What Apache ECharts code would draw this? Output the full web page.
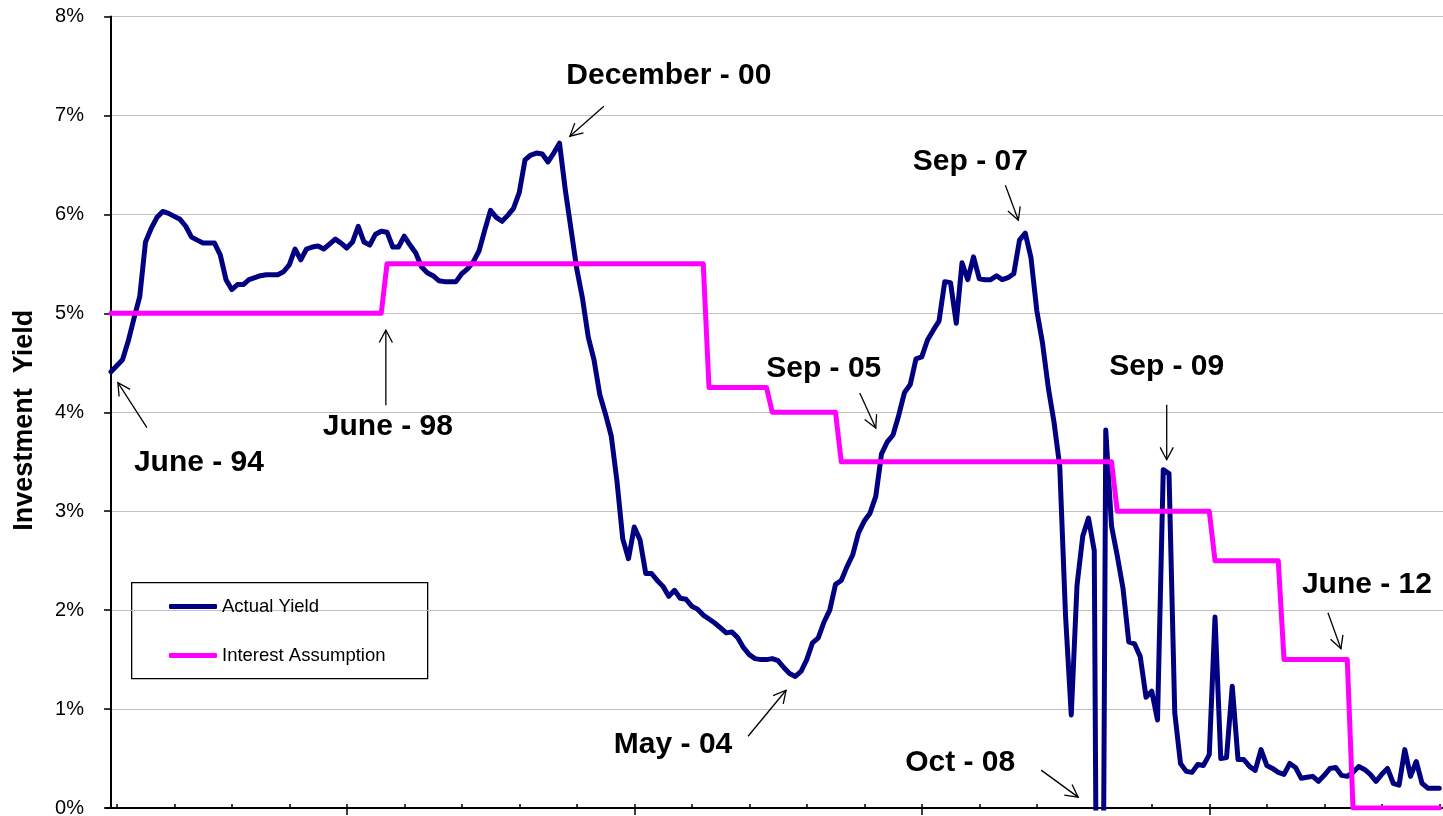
<!DOCTYPE html>
<html>
<head>
<meta charset="utf-8">
<script src="https://cdn.jsdelivr.net/npm/echarts@6/dist/echarts.min.js"></script>
<style>
  html, body { margin: 0; padding: 0; background: #fff; }
  #chart { width: 1443px; height: 816px; }
</style>
</head>
<body>
<div id="chart"></div>
<script>
// Monthly actual investment yield (%), one value per month starting June 1994
const firstMonth = '1994-06';
const actualYield = [
  4.41, 4.47, 4.53, 4.72, 4.95, 5.17, 5.72, 5.86, 5.97, 6.03,
  6.01, 5.98, 5.95, 5.88, 5.77, 5.74, 5.71, 5.71, 5.71, 5.59,
  5.34, 5.24, 5.29, 5.29, 5.34, 5.36, 5.38, 5.39, 5.39, 5.39,
  5.42, 5.49, 5.65, 5.54, 5.65, 5.67, 5.68, 5.65, 5.70, 5.75,
  5.71, 5.66, 5.72, 5.88, 5.72, 5.69, 5.80, 5.83, 5.82, 5.67,
  5.67, 5.78, 5.69, 5.61, 5.47, 5.41, 5.38, 5.33, 5.32, 5.32,
  5.32, 5.40, 5.45, 5.52, 5.63, 5.84, 6.04, 5.97, 5.93, 5.99,
  6.06, 6.22, 6.55, 6.60, 6.62, 6.61, 6.53, 6.62, 6.72, 6.25,
  5.85, 5.45, 5.15, 4.76, 4.53, 4.18, 3.98, 3.76, 3.30, 2.72,
  2.52, 2.84, 2.71, 2.37, 2.37, 2.30, 2.24, 2.14, 2.20, 2.12,
  2.11, 2.04, 2.01, 1.95, 1.91, 1.87, 1.82, 1.77, 1.78, 1.72,
  1.62, 1.55, 1.51, 1.50, 1.50, 1.51, 1.49, 1.42, 1.36, 1.33,
  1.38, 1.50, 1.67, 1.72, 1.88, 2.00, 2.26, 2.30, 2.44, 2.56,
  2.78, 2.90, 2.98, 3.15, 3.58, 3.70, 3.77, 3.97, 4.20, 4.28,
  4.54, 4.56, 4.73, 4.83, 4.92, 5.32, 5.31, 4.90, 5.51, 5.34,
  5.57, 5.35, 5.34, 5.34, 5.38, 5.34, 5.36, 5.40, 5.74, 5.81,
  5.56, 5.03, 4.70, 4.25, 3.90, 3.45, 1.95, 0.94, 2.25, 2.75,
  2.93, 2.60, -7.00, 3.82, 2.85, 2.55, 2.22, 1.68, 1.66, 1.53,
  1.12, 1.18, 0.89, 3.42, 3.38, 0.96, 0.45, 0.37, 0.36, 0.44,
  0.43, 0.54, 1.93, 0.50, 0.51, 1.23, 0.49, 0.49, 0.42, 0.38,
  0.59, 0.43, 0.40, 0.36, 0.34, 0.45, 0.41, 0.30, 0.31, 0.32,
  0.27, 0.33, 0.40, 0.41, 0.33, 0.32, 0.36, 0.42, 0.39, 0.34,
  0.27, 0.34, 0.40, 0.25, 0.23, 0.59, 0.32, 0.47, 0.25, 0.20,
  0.20, 0.20
];

// Assumed interest rate (%) and the month each rate took effect
const assumptionFrom = ['1994-06', '1998-06', '2003-02', '2004-01', '2005-01', '2009-01', '2010-06', '2011-06', '2012-06'];
const assumptionRate = [5.0, 5.5, 4.25, 4.0, 3.5, 3.0, 2.5, 1.5, 0.0];

// Y axis ticks (%)
const yTickValues = [0, 1, 2, 3, 4, 5, 6, 7, 8];

// Date-axis tick marks, in months since June 1994 (long marks every 50 months)
const xMinorTicks = [1, 11, 21, 31, 41, 51, 61, 71, 81, 91, 101, 111, 121, 131, 141, 151, 161, 171, 181, 191, 201, 211, 221, 231];
const xMajorTicks = [41, 91, 141, 191];

// Callouts: text and the point (months since June 1994, %) the arrow points at
const calloutLabels = ['June - 94', 'June - 98', 'December - 00', 'May - 04', 'Sep - 05', 'Sep - 07', 'Oct - 08', 'Sep - 09', 'June - 12'];
const calloutTargets = [
  [1.2, 4.30], [47.8, 4.83], [79.8, 6.79], [117.4, 1.19], [133.0, 3.84],
  [157.8, 5.94], [168.2, 0.11], [183.6, 3.52], [213.9, 1.61]
];

// ---- helpers ----
function monthIndex(ym) {
  const [y, m] = ym.split('-').map(Number);
  const [y0, m0] = firstMonth.split('-').map(Number);
  return (y - y0) * 12 + (m - m0);
}

const yieldData = actualYield.map((v, i) => [i, v]);
const assumptionStarts = assumptionFrom.map(monthIndex);
const assumptionData = actualYield.map((_, i) => {
  let rate = assumptionRate[0];
  assumptionStarts.forEach((s, k) => { if (i >= s) rate = assumptionRate[k]; });
  return [i, rate];
});

// Pixel offsets of each callout's arrow tail and text centre from its arrow head
const calloutLayout = [
  { tail: [29, 45],   text: [81, 80] },
  { tail: [0, 75],    text: [2, 97] },
  { tail: [34, -30],  text: [99, -60] },
  { tail: [-38, 46],  text: [-113, 54] },
  { tail: [-16, -35], text: [-52, -59] },
  { tail: [-13, -35], text: [-48, -59] },
  { tail: [-37, -27], text: [-118, -34] },
  { tail: [0, -55],   text: [0, -93] },
  { tail: [-13, -36], text: [26, -64] }
];

const FONT = '"Liberation Sans", Arial, Helvetica, sans-serif';
const X_MIN = -0.87, X_MAX = 231.65;

const chart = echarts.init(document.getElementById('chart'), null, { renderer: 'canvas' });

chart.setOption({
  animation: false,
  backgroundColor: '#ffffff',
  grid: { left: 106, right: 0, top: 16.5, bottom: 8, containLabel: false, outerBoundsMode: 'none' },
  legend: {
    orient: 'vertical',
    left: 164,
    top: 592,
    itemWidth: 48,
    itemHeight: 5,
    itemGap: 30,
    icon: 'roundRect',
    selectedMode: false,
    textStyle: { fontFamily: FONT, fontSize: 18.5, color: '#000', lineHeight: 18 },
    data: ['Actual Yield', 'Interest Assumption']
  },
  graphic: [{
    type: 'rect',
    left: 131, top: 582, z: -1,
    shape: { width: 296, height: 96 },
    style: { fill: '#fff', stroke: '#000', lineWidth: 1.3 }
  }],
  xAxis: [{
    type: 'value', position: 'bottom', min: X_MIN, max: X_MAX,
    axisLine: { show: true, lineStyle: { color: '#000', width: 2 } },
    axisTick: { show: true, inside: true, length: 4, customValues: xMinorTicks, lineStyle: { color: '#000', width: 1.5 } },
    axisLabel: { show: false },
    splitLine: { show: false }
  }, {
    type: 'value', position: 'bottom', min: X_MIN, max: X_MAX,
    axisLine: { show: false },
    axisTick: { show: true, inside: false, length: 7, customValues: xMajorTicks, lineStyle: { color: '#000', width: 1.5 } },
    axisLabel: { show: false },
    splitLine: { show: false }
  }],
  yAxis: {
    type: 'value', min: 0, max: 8, interval: 1,
    name: 'Investment  Yield',
    nameLocation: 'middle',
    nameRotate: 90,
    nameGap: 68,
    nameTextStyle: { fontFamily: FONT, fontSize: 27, fontWeight: 'bold', color: '#000', padding: [0, 16, 0, 0] },
    axisLine: { show: true, lineStyle: { color: '#000', width: 2 } },
    axisTick: { show: true, length: 7, lineStyle: { color: '#000', width: 1.5 } },
    axisLabel: {
      fontFamily: FONT, fontSize: 20, color: '#000', margin: 22,
      customValues: yTickValues,
      formatter: v => v + '%'
    },
    splitLine: { show: true, lineStyle: { color: '#c0c0c0', width: 1.2 } }
  },
  series: [{
    name: 'Actual Yield',
    type: 'line',
    data: yieldData,
    showSymbol: false,
    symbol: 'none',
    color: '#000080',
    lineStyle: { color: '#000080', width: 5, cap: 'round', join: 'round' },
    z: 2
  }, {
    name: 'Interest Assumption',
    type: 'line',
    data: assumptionData,
    showSymbol: false,
    symbol: 'none',
    color: '#ff00ff',
    lineStyle: { color: '#ff00ff', width: 5, cap: 'round', join: 'round' },
    z: 3
  }, {
    name: 'callouts',
    type: 'custom',
    clip: false,
    silent: true,
    z: 10,
    data: calloutTargets,
    renderItem(params, api) {
      const lay = calloutLayout[params.dataIndex];
      const head = api.coord([api.value(0), api.value(1)]);
      const tail = [head[0] + lay.tail[0], head[1] + lay.tail[1]];
      const dx = head[0] - tail[0], dy = head[1] - tail[1];
      const len = Math.hypot(dx, dy);
      const ux = dx / len, uy = dy / len;
      const arm = 14, ang = 28 * Math.PI / 180;
      const c = Math.cos(ang), s = Math.sin(ang);
      const a1 = [head[0] - arm * (ux * c - uy * s), head[1] - arm * (uy * c + ux * s)];
      const a2 = [head[0] - arm * (ux * c + uy * s), head[1] - arm * (uy * c - ux * s)];
      return {
        type: 'group',
        children: [
          { type: 'line', shape: { x1: tail[0], y1: tail[1], x2: head[0], y2: head[1] },
            style: { stroke: '#000', lineWidth: 1.3 } },
          { type: 'polyline', shape: { points: [a1, head, a2] },
            style: { stroke: '#000', lineWidth: 1.3, fill: 'none' } },
          { type: 'text', x: head[0] + lay.text[0], y: head[1] + lay.text[1],
            style: { text: calloutLabels[params.dataIndex], font: 'bold 30px ' + FONT, fill: '#000',
                     align: 'center', verticalAlign: 'middle' } }
        ]
      };
    }
  }]
});
</script>
</body>
</html>
